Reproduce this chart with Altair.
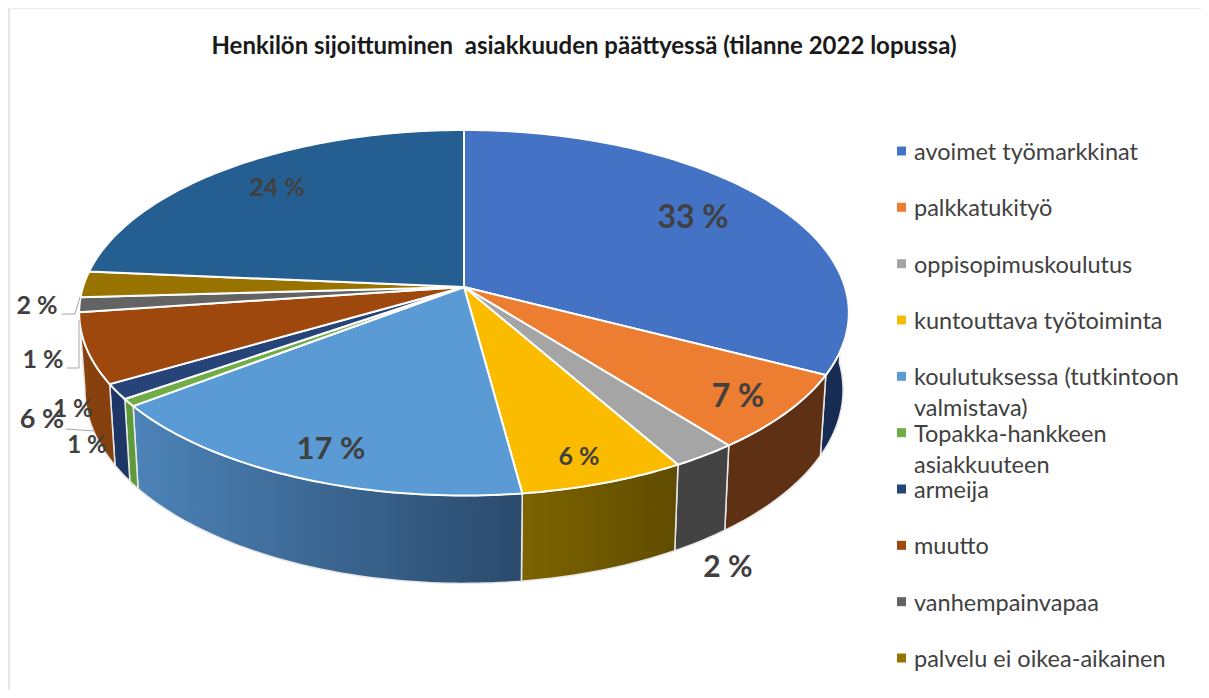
import math
import altair as alt

# ---- data ----
categories = ["avoimet työmarkkinat", "palkkatukityö", "oppisopimuskoulutus",
              "kuntouttava työtoiminta", "koulutuksessa (tutkintoon\nvalmistava)",
              "Topakka-hankkeen\nasiakkuuteen", "armeija", "muutto",
              "vanhempainvapaa", "palvelu ei oikea-aikainen", "muu"]
shares = [32.6, 6.8, 2.4, 6.1, 16.7, 0.65, 1.35, 6.2, 1.3, 2.3, 23.6]
top_colors = ["#4472c4", "#ed7d31", "#a5a5a5", "#fbbc00", "#5b9bd5", "#70ad47",
              "#264478", "#9e480e", "#636363", "#997300", "#255e91"]
wall_colors = [("#162c52", "#162c52"), ("#5e3114", "#5e3114"), ("#434343", "#434343"),
               ("#7d6300", "#604c00"), ("#4c83b8", "#2b4a6c"), ("#5f9a3a", "#5f9a3a"),
               ("#1c3666", "#1c3666"), ("#8a420e", "#84400d"), None, None, None]
legend_names = categories[:10]
title_text = "Henkilön sijoittuminen \u00a0asiakkuuden päättyessä (tilanne 2022 lopussa)"
# text, x, y, font size
slice_labels = [("33 %", 685, 210, 32), ("7 %", 730, 389, 32), ("2 %", 720, 560, 30),
                ("6 %", 571, 449, 25), ("17 %", 323, 442, 31), ("24 %", 269, 180, 25),
                ("2 %", 29, 298, 25), ("1 %", 35, 352, 25), ("6 %", 34, 412, 27),
                ("1 %", 65, 402, 24), ("1 %", 79, 438, 24)]
leaders = [(54, 67, 306, 306), (67, 72, 306, 289), (59, 71, 360, 360), (71, 71, 360, 312),
           (58, 87, 421, 423)]

W, H = 1193, 682
FONT = "Lato"
TEXT = "#404040"

# ---- perspective view of the flat pie ----
CX, CY = 456, 279
A, B, P, DEPTH = 381, 179.1, 0.141, 75.5
LOWER_X = 0.985


def rim(t_deg, lower=False):
    t = math.radians(t_deg)
    u, v = math.sin(t), math.cos(t)
    w = 1 + P * v
    y = CY - B * v / w + (DEPTH / w if lower else 0)
    return [round(CX + A * u / w * (LOWER_X if lower else 1), 2), round(y, 2)]


def arc_angles(a0, a1):
    n = max(2, int((a1 - a0) / 1.0) + 1)
    return [a0 + (a1 - a0) * i / n for i in range(n + 1)]


def feature(ring, name):
    return {"type": "Feature", "properties": {"name": name},
            "geometry": {"type": "Polygon", "coordinates": [ring + [ring[0]]]}}


bounds = [0]
for s in shares:
    bounds.append(bounds[-1] + s)
total = bounds[-1]
angles = [b / total * 360 for b in bounds]

proj = alt.Projection(type="identity", scale=1, translate=[0, 0])
frame = [feature([[0, 0], [W, 0], [W, H], [0, H]], "frame")]

layers = [alt.Chart(alt.Data(values=frame)).mark_geoshape(fill="white", stroke=None)]

# side walls
for i, cols in enumerate(wall_colors):
    if cols is None:
        continue
    a0, a1 = max(angles[i], 90), min(angles[i + 1], 270)
    pts = arc_angles(a0, a1)
    ring = [rim(a) for a in pts] + [rim(a, True) for a in reversed(pts)]
    grad = alt.LinearGradient(gradient="linear", x1=0, x2=1, y1=0, y2=0,
                              stops=[alt.GradientStop(color=cols[0], offset=0),
                                     alt.GradientStop(color=cols[1], offset=1)])
    layers.append(alt.Chart(alt.Data(values=[feature(ring, categories[i])]))
                  .mark_geoshape(fill=grad, stroke="#e8e8e8", strokeWidth=1.5))

# top face
tops = []
for i, name in enumerate(categories):
    ring = [[CX, CY]] + [rim(a) for a in arc_angles(angles[i], angles[i + 1])]
    tops.append(feature(ring, name))
layers.append(alt.Chart(alt.Data(values=tops)).mark_geoshape(stroke="white", strokeWidth=2).encode(
    color=alt.Color("properties.name:N", legend=None,
                    scale=alt.Scale(domain=categories, range=top_colors))))

# leader lines
for x0, x1, y0, y1 in leaders:
    layers.append(alt.Chart(alt.Data(values=[{}])).mark_rule(color="#a6a6a6", strokeWidth=1).encode(
        x=alt.value(x0), x2=alt.value(x1), y=alt.value(y0), y2=alt.value(y1)))

# slice labels
for txt, x, y, size in slice_labels:
    layers.append(alt.Chart(alt.Data(values=[{"t": txt}])).mark_text(
        font=FONT, fontWeight="bold", fontSize=size, color=TEXT, align="center", baseline="middle").encode(
        x=alt.value(x), y=alt.value(y), text="t:N"))

# legend column
legend_rows = [{"name": n, "first": n} for n in legend_names]
ypos = alt.Y("name:N", axis=None, sort=legend_names,
             scale=alt.Scale(domain=legend_names, range=[143, 650], type="point", padding=0))
layers.append(alt.Chart(alt.Data(values=legend_rows)).mark_square(size=81, opacity=1).encode(
    x=alt.value(893.5), y=ypos,
    fill=alt.Fill("name:N", legend=None, scale=alt.Scale(domain=legend_names, range=top_colors[:10]))))
layers.append(alt.Chart(alt.Data(values=legend_rows)).mark_text(
    font=FONT, fontSize=23.5, color=TEXT, align="left", baseline="top", dy=-10,
    lineBreak="\n", lineHeight=31).encode(x=alt.value(906), y=ypos, text="first:N"))

# title
layers.append(alt.Chart(alt.Data(values=[{"t": title_text}])).mark_text(
    font=FONT, fontWeight="bold", fontSize=24, color="#1a1a1a", align="center", baseline="middle").encode(
    x=alt.value(576), y=alt.value(39), text="t:N"))

# chart frame lines
layers.append(alt.Chart(alt.Data(values=[{}])).mark_rule(color="#dcdcdc", strokeWidth=1.5).encode(
    x=alt.value(1), x2=alt.value(1), y=alt.value(0), y2=alt.value(H)))
layers.append(alt.Chart(alt.Data(values=[{}])).mark_rule(color="#ececec", strokeWidth=1.5).encode(
    x=alt.value(1), x2=alt.value(W), y=alt.value(0.5), y2=alt.value(0.5)))

chart = alt.layer(*layers).resolve_scale(color="independent", fill="independent").properties(
    width=W, height=H, padding=0, autosize="none", background="white", projection=proj
).configure_view(stroke=None)

chart.save("out.html", embed_options={"renderer": "svg", "actions": False})
